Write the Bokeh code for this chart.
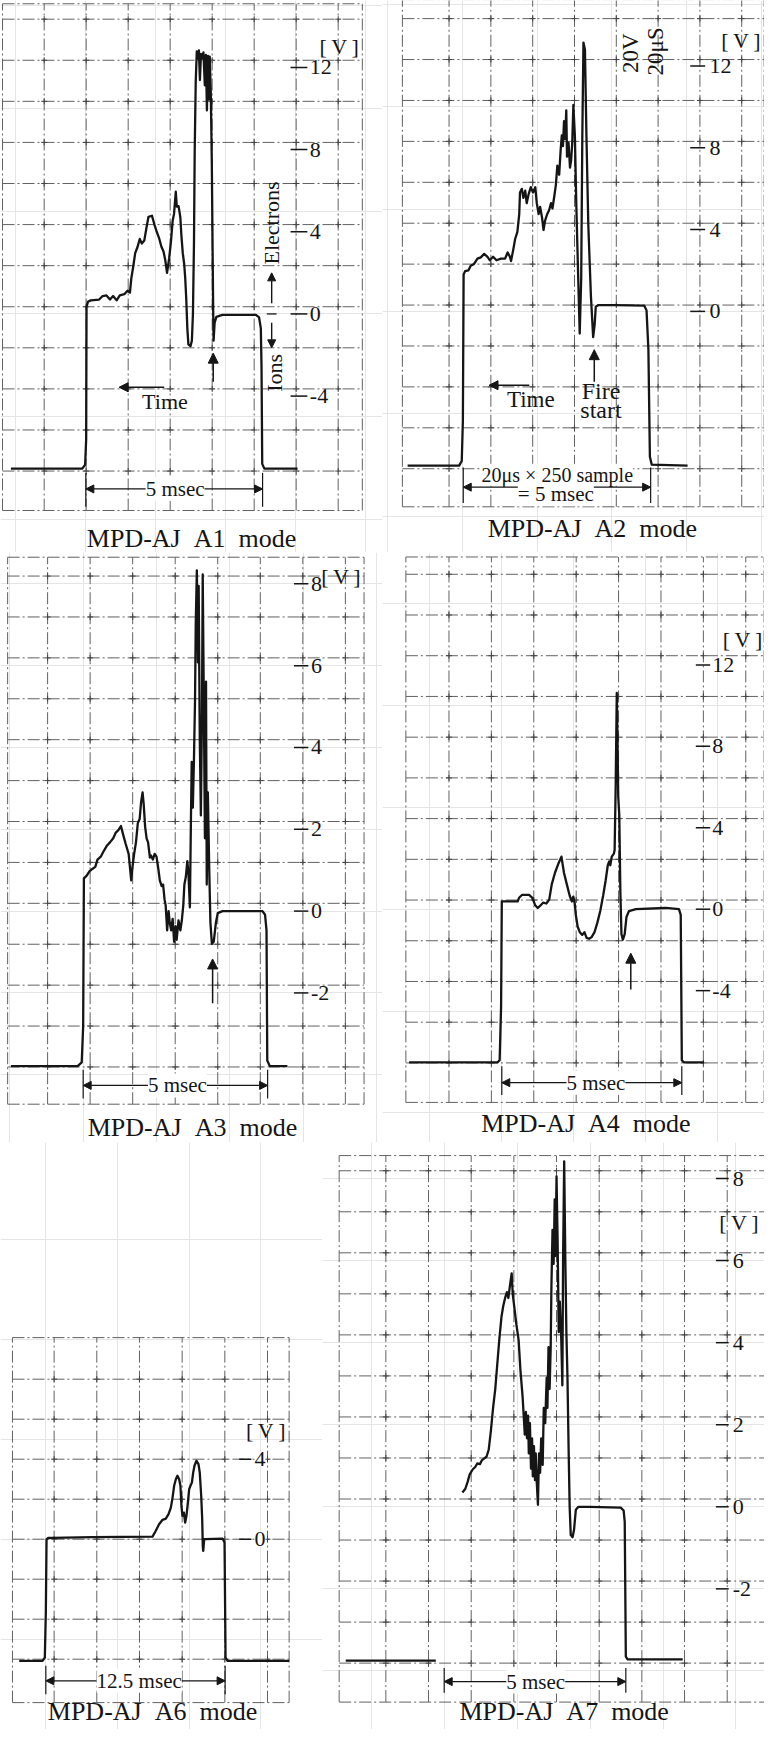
import numpy as np
from bokeh.plotting import figure
from bokeh.layouts import row, column
from bokeh.models import Range1d, Label, Arrow, NormalHead
from bokeh.embed import file_html
from bokeh.resources import INLINE

SERIF = "Liberation Serif"
INK = "#151515"
GRID_C = "#626262"

# ---------------- trace data: (time position in msec, signal in V) ----------------
a1_trace = [(-2.14,-7.53),(-0.10,-7.53),(-0.02,-7.34),(0.01,-6.09),(0.02,0.35),(0.06,0.59),(0.14,0.66),(0.38,0.70),(0.48,0.87),(0.59,0.90),
 (0.69,0.70),(0.78,0.87),(0.88,0.66),(0.97,0.90),(1.10,0.96),(1.19,1.13),(1.26,1.04),(1.30,1.74),(1.35,2.26),(1.41,2.96),
 (1.48,3.27),(1.54,3.65),(1.60,3.43),(1.67,3.57),(1.73,4.17),(1.79,4.73),(1.89,4.78),(1.96,4.35),(2.02,4.03),(2.10,3.65),
 (2.16,3.27),(2.22,3.04),(2.27,2.61),(2.32,2.00),(2.38,2.70),(2.43,3.48),(2.48,4.52),(2.52,4.87),(2.57,5.95),(2.60,5.22),
 (2.65,5.25),(2.70,4.70),(2.73,3.83),(2.77,2.96),(2.81,2.43),(2.84,1.74),(2.87,0.70),(2.90,-0.70),(2.93,-1.48),(2.99,-1.57),
 (3.03,-1.30),(3.06,0.00),(3.09,3.48),(3.11,7.83),(3.14,11.30),(3.17,12.78),(3.20,12.43),(3.23,12.83),(3.26,11.39),(3.29,12.66),
 (3.32,12.43),(3.36,12.73),(3.40,11.13),(3.43,12.61),(3.46,9.91),(3.49,12.56),(3.51,10.43),(3.54,12.52),(3.57,10.78),(3.60,7.30),
 (3.62,3.48),(3.64,0.00),(3.65,-1.30),(3.68,-0.43),(3.73,-0.14),(3.90,-0.05),(4.86,-0.05),(4.95,-0.17),(5.00,-0.70),(5.02,-2.61),
 (5.04,-7.30),(5.10,-7.53),(6.05,-7.53)]

a2_trace = [(-1.47,-7.54),(-0.09,-7.54),(-0.02,-7.31),(0.01,-5.36),(0.03,1.80),(0.07,1.97),(0.16,2.01),(0.22,2.23),(0.31,2.32),(0.40,2.58),
 (0.49,2.64),(0.58,2.81),(0.67,2.67),(0.73,2.50),(0.82,2.67),(0.91,2.50),(1.03,2.58),(1.14,2.58),(1.21,2.88),(1.27,2.67),
 (1.30,2.46),(1.36,3.02),(1.41,3.54),(1.47,3.89),(1.52,4.76),(1.54,5.81),(1.59,5.99),(1.63,5.55),(1.68,5.90),(1.72,5.29),
 (1.77,5.72),(1.83,6.07),(1.89,5.81),(1.95,6.07),(1.99,5.29),(2.04,4.76),(2.08,5.11),(2.13,4.59),(2.17,3.98),(2.21,4.42),
 (2.27,4.76),(2.32,4.94),(2.37,5.29),(2.41,5.03),(2.46,5.64),(2.50,6.16),(2.54,7.12),(2.59,6.68),(2.63,7.91),(2.66,8.60),
 (2.69,8.08),(2.72,9.30),(2.75,8.43),(2.78,9.83),(2.80,7.56),(2.84,8.25),(2.88,7.03),(2.91,7.38),(2.94,8.25),(2.97,10.09),
 (3.01,8.60),(3.05,5.11),(3.10,1.62),(3.14,-1.08),(3.18,1.62),(3.21,8.60),(3.24,13.14),(3.28,12.79),(3.32,8.60),(3.37,4.24),
 (3.44,0.75),(3.50,-1.26),(3.54,-0.65),(3.57,0.23),(3.64,0.31),(4.11,0.31),(4.87,0.28),(4.93,0.05),(4.98,-1.87),(5.02,-7.10),
 (5.07,-7.49),(6.03,-7.54)]

a3_trace = [(-1.97,-3.79),(-0.15,-3.79),(-0.04,-3.70),(0.00,-2.81),(0.02,0.80),(0.09,0.86),(0.18,0.98),(0.25,1.03),(0.33,1.08),(0.39,1.26),
 (0.48,1.33),(0.55,1.45),(0.64,1.59),(0.73,1.68),(0.82,1.78),(0.89,1.92),(0.96,1.98),(1.03,2.08),(1.09,1.87),(1.16,1.64),
 (1.24,1.40),(1.28,1.03),(1.31,0.75),(1.35,1.12),(1.39,1.40),(1.44,1.68),(1.49,2.15),(1.54,2.25),(1.58,2.67),(1.62,2.90),
 (1.65,2.62),(1.69,2.06),(1.73,1.78),(1.77,1.68),(1.82,1.31),(1.85,1.36),(1.90,1.26),(1.95,1.40),(2.00,1.33),(2.05,1.03),
 (2.09,0.75),(2.14,0.61),(2.18,0.65),(2.22,0.28),(2.25,0.14),(2.29,-0.47),(2.33,0.00),(2.36,-0.28),(2.40,-0.47),(2.44,-0.19),
 (2.48,-0.75),(2.52,-0.37),(2.55,-0.70),(2.60,-0.23),(2.65,-0.47),(2.69,-0.23),(2.73,0.14),(2.76,0.65),(2.80,0.84),(2.84,1.22),
 (2.87,0.94),(2.91,0.09),(2.94,2.34),(2.96,3.65),(2.99,2.53),(3.02,3.65),(3.05,5.14),(3.07,7.02),(3.10,8.33),(3.13,6.08),
 (3.15,7.95),(3.18,4.21),(3.21,2.34),(3.24,4.86),(3.26,8.23),(3.29,5.14),(3.32,1.78),(3.35,5.61),(3.37,0.65),(3.40,2.90),
 (3.44,0.94),(3.47,-0.28),(3.51,-0.80),(3.56,-0.75),(3.62,-0.28),(3.67,-0.05),(3.80,0.00),(4.89,0.00),(4.96,-0.09),(5.00,-0.47),
 (5.02,-3.65),(5.09,-3.79),(5.57,-3.79)]

a4_trace = [(-2.58,-7.52),(-0.12,-7.52),(-0.06,-7.42),(-0.02,-4.79),(0.00,0.38),(0.11,0.38),(0.44,0.38),(0.48,0.56),(0.56,0.70),(0.76,0.70),
 (0.85,0.56),(0.93,0.19),(1.00,0.06),(1.08,0.19),(1.15,0.32),(1.24,0.28),(1.32,0.47),(1.39,1.22),(1.48,1.79),(1.58,2.26),
 (1.66,2.58),(1.73,1.79),(1.81,1.22),(1.89,0.66),(1.95,0.38),(1.99,0.62),(2.03,0.28),(2.06,-0.28),(2.11,-0.85),(2.17,-1.13),
 (2.24,-1.26),(2.30,-1.13),(2.36,-1.41),(2.43,-1.45),(2.50,-1.37),(2.58,-1.13),(2.66,-0.66),(2.74,-0.09),(2.82,0.66),(2.89,1.41),
 (2.95,2.16),(2.99,2.35),(3.02,2.16),(3.06,2.58),(3.12,2.73),(3.14,2.91),(3.17,6.11),(3.20,10.62),(3.22,8.36),(3.24,5.55),
 (3.27,4.61),(3.30,0.85),(3.33,-1.22),(3.37,-1.50),(3.42,-1.22),(3.47,-0.38),(3.54,-0.09),(3.73,0.00),(4.56,0.06),(4.93,0.00),
 (4.98,-0.28),(5.01,-7.42),(5.07,-7.52),(5.63,-7.52)]

a6_trace = [(-1.86,-6.08),(-0.23,-6.08),(-0.07,-5.92),(0.00,-3.67),(0.05,0.00),(0.19,0.07),(0.47,0.07),(3.26,0.10),(7.45,0.13),(7.68,0.42),
 (7.91,0.75),(8.15,0.97),(8.38,1.03),(8.57,1.25),(8.73,1.58),(8.85,2.08),(8.96,2.67),(9.08,3.00),(9.19,3.17),(9.31,3.00),
 (9.40,2.67),(9.47,1.67),(9.54,1.17),(9.64,1.33),(9.73,0.83),(9.82,1.17),(9.92,1.83),(10.01,2.50),(10.10,2.67),(10.20,2.83),
 (10.29,3.33),(10.38,3.67),(10.52,3.92),(10.66,3.75),(10.75,3.33),(10.85,2.17),(10.92,1.00),(10.96,-0.33),(10.99,-0.58),(11.06,0.00),
 (11.17,0.00),(12.34,0.03),(12.48,-0.17),(12.55,-5.92),(12.69,-6.08),(16.99,-6.08)]

a7_trace = [(0.50,0.35),(0.58,0.44),(0.64,0.60),(0.70,0.79),(0.78,0.91),(0.85,0.97),(0.91,1.06),(0.98,1.04),(1.03,1.13),(1.10,1.18),
 (1.16,1.22),(1.22,1.39),(1.28,1.85),(1.34,2.41),(1.40,2.87),(1.45,3.42),(1.51,4.07),(1.57,4.63),(1.62,4.90),(1.67,5.09),
 (1.72,5.23),(1.76,5.09),(1.80,5.37),(1.85,5.69),(1.88,5.18),(1.93,4.81),(1.98,4.44),(2.04,4.07),(2.09,3.33),(2.15,2.68),
 (2.18,2.22),(2.21,1.76),(2.24,2.31),(2.27,1.67),(2.30,2.22),(2.32,1.30),(2.35,2.04),(2.38,0.93),(2.41,1.67),(2.43,0.74),
 (2.46,1.48),(2.49,0.65),(2.51,1.30),(2.54,0.56),(2.57,0.05),(2.60,1.30),(2.63,0.83),(2.66,1.67),(2.70,1.02),(2.73,2.41),
 (2.77,2.04),(2.81,3.15),(2.83,2.41),(2.86,3.89),(2.89,2.87),(2.92,3.89),(2.94,5.37),(2.97,6.75),(3.00,5.92),(3.03,7.49),
 (3.05,6.11),(3.08,8.05),(3.11,6.48),(3.14,4.26),(3.17,5.00),(3.21,4.07),(3.24,2.96),(3.26,6.11),(3.29,8.42),(3.32,6.11),
 (3.35,4.26),(3.38,3.15),(3.41,1.48),(3.44,0.00),(3.47,-0.69),(3.52,-0.74),(3.56,-0.56),(3.61,-0.07),(3.68,0.00),(3.98,0.00),
 (4.84,-0.02),(4.92,-0.09),(4.95,-0.37),(4.98,-3.65),(5.03,-3.72),(6.54,-3.72)]
a7_gate_left = [(-2.70,-3.75),(-0.23,-3.75)]

# tick values / labels of each voltage scale
a1_ticks = ([12, 8, 4, 0, -4], ["12", "8", "4", "0", "-4"])
a2_ticks = ([12, 8, 4, 0], ["12", "8", "4", "0"])
a3_ticks = ([8, 6, 4, 2, 0, -2], ["8", "6", "4", "2", "0", "-2"])
a4_ticks = ([12, 8, 4, 0, -4], ["12", "8", "4", "0", "-4"])
a6_ticks = ([4, 0], ["4", "0"])
a7_ticks = ([8, 6, 4, 2, 0, -2], ["8", "6", "4", "2", "0", "-2"])

captions = {"A1": "MPD-AJ\u2002A1\u2002mode", "A2": "MPD-AJ\u2002A2\u2002mode",
            "A3": "MPD-AJ\u2002A3\u2002mode", "A4": "MPD-AJ\u2002A4\u2002mode",
            "A6": "MPD-AJ\u2002A6\u2002mode", "A7": "MPD-AJ\u2002A7\u2002mode"}

# ---------------- layout / styling of each panel ----------------
# cell: page x, page y, width, height ; calib: page x of t=0, px per ms, page y of 0 V, px per V
PANELS = {
    "A1": dict(trace=a1_trace, ticks=a1_ticks, cell=(8, 8, 382, 552), calib=(93.33, 35.0, 321.43, 20.54),
               frame=(-2.38, 7.90, -9.57, 15.10), grid=(-1.19, 1.20, 0.35, 2.0),
               tick_x=(5.85, 6.33, 6.40), vlab=(7.24, 13.04), cap=(3.02, -10.93),
               dim=(0.0, 5.05, -7.74, -9.39, -8.52, "5 msec", 2.55, -8.52), fire=(3.64, -3.30, -1.91)),
    "A2": dict(trace=a2_trace, ticks=a2_ticks, cell=(390, 8, 382, 552), calib=(470.0, 37.33, 318.9, 20.46),
               frame=(-1.61, 8.08, -9.55, 15.24), grid=(-0.36, 1.12, 0.31, 2.0),
               tick_x=(6.10, 6.50, 6.62), vlab=(7.46, 13.23), cap=(3.48, -10.60),
               dim=(0.02, 5.04, -7.63, -9.37, -8.59, "= 5 msec", 2.50, -8.94), fire=(3.53, -3.44, -1.87)),
    "A3": dict(trace=a3_trace, ticks=a3_ticks, cell=(8, 560, 382, 590), calib=(90.67, 36.67, 918.6, 40.91),
               frame=(-2.06, 7.66, -4.72, 8.65), grid=(-0.97, 1.16, 0.19, 1.0),
               tick_x=(5.75, 6.14, 6.21), vlab=(7.03, 8.19), cap=(2.98, -5.28),
               dim=(0.0, 5.03, -3.88, -4.58, -4.26, "5 msec", 2.57, -4.26), fire=(3.53, -2.25, -1.17)),
    "A4": dict(trace=a4_trace, ticks=a4_ticks, cell=(390, 560, 382, 590), calib=(509.3, 35.93, 916.7, 20.36),
               frame=(-2.67, 7.30, -9.49, 17.30), grid=(-1.47, 1.18, 0.45, 2.0),
               tick_x=(5.40, 5.80, 5.86), vlab=(6.70, 13.25), cap=(2.34, -10.53),
               dim=(0.0, 5.01, -7.71, -9.12, -8.52, "5 msec", 2.62, -8.52), fire=(3.59, -3.95, -2.16)),
    "A6": dict(trace=a6_trace, ticks=a6_ticks, cell=(8, 1150, 322, 587), calib=(53.33, 14.32, 1546.7, 20.0),
               frame=(-2.33, 16.99, -8.17, 10.08), grid=(0.58, 2.98, 0.0, 2.0),
               tick_x=(13.5, 14.35, 14.95), vlab=(15.36, 5.42), cap=(7.45, -8.62),
               dim=(0.0, 12.52, -6.33, -7.75, -7.08, "12.5 msec", 6.52, -7.08), fire=None),
    "A7": dict(trace=a7_trace, ticks=a7_ticks, cell=(330, 1150, 442, 587), calib=(451.7, 36.47, 1514.3, 41.03),
               frame=(-2.88, 8.91, -4.76, 8.56), grid=(-1.60, 1.17, 0.19, 1.0),
               tick_x=(7.45, 7.80, 7.91), vlab=(8.08, 6.92), cap=(3.29, -4.99),
               dim=(0.0, 4.98, -3.93, -4.53, -4.26, "5 msec", 2.51, -4.26), fire=None),
}


def lab(p, x, y, text, size="20px", angle=0.0, align="center", baseline="middle", bg=None):
    kw = dict(x=x, y=y, text=text, text_font=SERIF, text_font_size=size, text_color=INK,
              angle=angle, text_align=align, text_baseline=baseline)
    if bg:
        kw["background_fill_color"] = bg
    p.add_layout(Label(**kw))


def arrow(p, x0, y0, x1, y1, both=False, size=9, width=1.5):
    head = lambda: NormalHead(size=size, fill_color=INK, line_color=INK, line_width=1)
    p.add_layout(Arrow(x_start=x0, y_start=y0, x_end=x1, y_end=y1, end=head(),
                       start=head() if both else None, line_color=INK, line_width=width))


def inner(lo, hi, start, step):
    k0 = int(np.ceil((lo - start) / step))
    k1 = int(np.floor((hi - start) / step))
    vals = [start + k * step for k in range(k0, k1 + 1)]
    return [v for v in vals if v - lo > 0.25 * step and hi - v > 0.25 * step]


def build(name):
    c = PANELS[name]
    X0, Y0, W, H = c["cell"]
    ox, kx, oy, ky = c["calib"]
    p = figure(width=W, height=H,
               x_range=Range1d((X0 - ox) / kx, (X0 + W - ox) / kx),
               y_range=Range1d((oy - (Y0 + H)) / ky, (oy - Y0) / ky),
               toolbar_location=None, output_backend="svg",
               x_axis_location=None, y_axis_location=None, min_border=0, title=None)
    p.outline_line_color = None
    p.background_fill_color = "white"
    p.border_fill_color = "white"

    # oscilloscope graticule
    fx0, fx1, fy0, fy1 = c["frame"]
    gx0, gdx, gy0, gdy = c["grid"]
    ivx = inner(fx0, fx1, gx0, gdx)
    ihy = inner(fy0, fy1, gy0, gdy)
    vx = [fx0] + ivx + [fx1]
    hy = [fy0] + ihy + [fy1]
    p.segment(x0=vx, x1=vx, y0=[fy0] * len(vx), y1=[fy1] * len(vx),
              line_color=GRID_C, line_width=1, line_dash="12 3 2 3")
    p.segment(x0=[fx0] * len(hy), x1=[fx1] * len(hy), y0=hy, y1=hy,
              line_color=GRID_C, line_width=1, line_dash="12 3 2 3")
    cx = [x for x in ivx for _ in ihy]
    cy = [y for _ in ivx for y in ihy]
    p.scatter(cx, cy, marker="cross", size=6, line_color="#444444", line_width=1)

    # voltage scale
    tv, tl = c["ticks"]
    tx0, tx1, lx = c["tick_x"]
    p.segment(x0=[tx0] * len(tv), x1=[tx1] * len(tv), y0=tv, y1=tv, line_color=INK, line_width=1.5)
    for v, t in zip(tv, tl):
        if name == "A6":
            lab(p, lx, v, t, size="22px", bg="white")
        else:
            lab(p, lx, v, t, size="22px", align="left")
    lab(p, c["vlab"][0], c["vlab"][1], "[\u2009V\u2009]", size="22px")

    # trace
    xs = [q[0] for q in c["trace"]]
    ys = [q[1] for q in c["trace"]]
    p.line(xs, ys, line_color=INK, line_width=2.3, line_join="round")
    if name == "A7":
        p.line([q[0] for q in a7_gate_left], [q[1] for q in a7_gate_left],
               line_color=INK, line_width=2.3)

    # duration marker
    xa, xb, yv0, yv1, yl, dtext, dtx, dty = c["dim"]
    p.segment(x0=[xa, xb], x1=[xa, xb], y0=[yv0, yv0], y1=[yv1, yv1], line_color=INK, line_width=1.2)
    arrow(p, xa, yl, xb, yl, both=True, size=8, width=1.3)
    lab(p, dtx, dty, dtext, size="21px", bg="white")

    if c["fire"]:
        fx, fa, fb = c["fire"]
        arrow(p, fx, fa, fx, fb, size=10, width=1.5)

    lab(p, c["cap"][0], c["cap"][1], captions[name], size="26px")
    return p


p1 = build("A1")
arrow(p1, 2.24, -3.57, 0.95, -3.57, size=9, width=1.5)
lab(p1, 2.26, -4.26, "Time", size="22px")
lab(p1, 5.31, 4.43, "Electrons", size="22px", angle=np.pi / 2)
arrow(p1, 5.31, 0.52, 5.31, 2.00, size=8, width=1.4)
arrow(p1, 5.31, -0.43, 5.31, -1.65, size=8, width=1.4)
p1.segment(x0=[5.17], x1=[5.45], y0=[0.0], y1=[0.0], line_color=INK, line_width=1.3)
lab(p1, 5.38, -2.87, "Ions", size="22px", angle=np.pi / 2)

p2 = build("A2")
arrow(p2, 1.79, -3.61, 0.71, -3.61, size=9, width=1.5)
lab(p2, 1.83, -4.31, "Time", size="23px")
lab(p2, 3.71, -3.87, "Fire", size="24px")
lab(p2, 3.71, -4.83, "start", size="24px")
lab(p2, 4.51, 12.62, "20V", size="23px", angle=np.pi / 2)
lab(p2, 5.18, 12.71, "20\u03bcS", size="23px", angle=np.pi / 2)
lab(p2, 2.54, -7.98, "20\u03bcs \u00d7 250 sample", size="20px", bg="white")

p3 = build("A3")
p4 = build("A4")
p6 = build("A6")
p7 = build("A7")

layout = column(row(p1, p2), row(p3, p4), row(p6, p7))
open("out.html", "w").write(file_html(layout, INLINE))
